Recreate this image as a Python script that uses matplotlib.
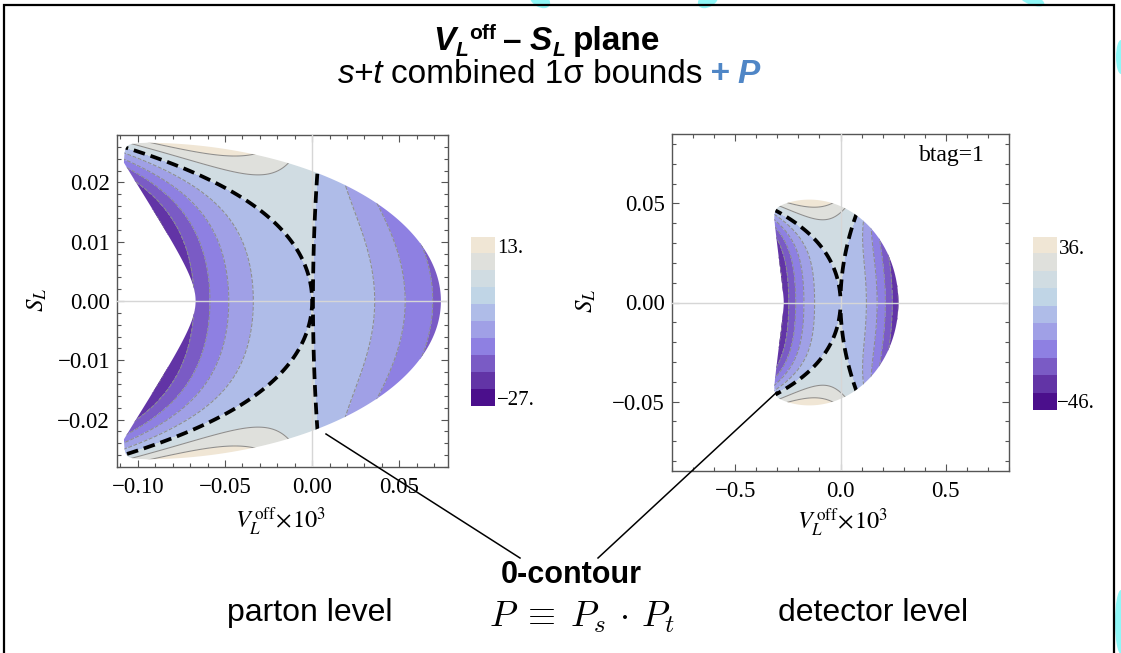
import numpy as np
import matplotlib
matplotlib.use("Agg")
import matplotlib.pyplot as plt
from matplotlib.patches import Rectangle, PathPatch, Ellipse
from matplotlib.colors import ListedColormap
from matplotlib.lines import Line2D
from matplotlib.ticker import MultipleLocator
from matplotlib.transforms import IdentityTransform

W, H = 1121, 653
SERIF = "Liberation Serif"
SANS = "Liberation Sans"

# ---------------------------------------------------------------- data
# legend colours, lowest value first
band_colors = ["#4B0F8C", "#6234A6", "#7A5BC5", "#8E80E2", "#A0A0E6",
               "#AFBCE8", "#C0D5E6", "#D0DCE2", "#DFE0DC", "#F0E6D5"]

# parton level: P = scale * Ps * Pt * damping(x > 0)
parton_range = [-27.0, 13.0]
parton_levels = [-27, -24, -20, -16, -12, -8, -4, 0, 4, 8, 13]
parton_fill = [0, 0, 1, 2, 3, 4, 5, 7, 8, 9]     # legend colour of each band
parton_range_labels = ["13.", "\u221227."]
parton_xlim = [-0.112, 0.078]
parton_ylim = [-0.028, 0.028]
parton_xticks = [-0.10, -0.05, 0.00, 0.05]
parton_xticklabels = ["\u22120.10", "\u22120.05", "0.00", "0.05"]
parton_yticks = [-0.02, -0.01, 0.00, 0.01, 0.02]
parton_yticklabels = ["\u22120.02", "\u22120.01", "0.00", "0.01", "0.02"]
parton_minor = [0.01, 0.002]
parton_Ps = [110.0, 74560.0]          # y^2, y^4 coefficients of the s factor
parton_Pt = [0.0005, 5.4]             # offset, y^2 coefficient of the t factor
parton_scale = 3460.0
parton_damp = 0.1134
parton_outer = [-0.100, 0.174, 0.0268]        # 1 sigma ellipse
parton_inner = [-0.067, 2.2, 0.005, -0.1085]  # vertex, slope, rounding, cap
parton_edge = [21.9, 0.10]                    # gradient match, corner rounding

# detector level, btag = 1
detector_range = [-46.0, 36.0]
detector_levels = [-46, -40, -32, -24, -16, -8, 0, 12, 24, 36]
detector_fill = [0, 1, 2, 3, 4, 5, 7, 8, 9]
detector_range_labels = ["36.", "\u221246."]
detector_xlim = [-0.80, 0.80]
detector_ylim = [-0.085, 0.085]
detector_xticks = [-0.5, 0.0, 0.5]
detector_xticklabels = ["\u22120.5", "0.0", "0.5"]
detector_yticks = [-0.05, 0.00, 0.05]
detector_yticklabels = ["\u22120.05", "0.00", "0.05"]
detector_minor = [0.1, 0.01]
detector_Ps = [100.0, 20000.0]
detector_Pt = [0.0, 38.0]
detector_scale = 530.0
detector_damp = 10.0
detector_outer = [-0.15, 0.425, 0.052]
detector_inner = [-0.27, 1.2, 0.003, -0.318]
detector_edge = [4.1, 0.10]


def px_axes(fig, x0, y0, x1, y1):
    return fig.add_axes([x0 / W, 1 - y1 / H, (x1 - x0) / W, (y1 - y0) / H])


def smooth_max(a, b, r):
    return 0.5 * (a + b + np.sqrt((a - b) ** 2 + r ** 2))


def product_field(X, Y, ps, pt, scale, damp):
    s_fac = X + ps[0] * Y ** 2 + ps[1] * Y ** 4
    t_fac = pt[0] + pt[1] * Y ** 2 - X
    weight = 1.0 / (1.0 + (np.maximum(X, 0) / damp) ** 2)
    return scale * s_fac * t_fac * weight


def region_field(X, Y, outer, inner, edge):
    xc, a, b = outer
    xi, s, e, cap = inner
    ell = ((X - xc) / a) ** 2 + (Y / b) ** 2 - 1
    x_in = np.maximum(xi - s * (np.sqrt(Y ** 2 + e ** 2) - e), cap)
    return smooth_max(ell, edge[0] * (x_in - X), edge[1])


def draw_panel(ax, xlim, ylim, rng, levels, fill, ps, pt, scale, damp, outer,
               inner, edge, xticks, xlabels, yticks, ylabels, minor):
    x = np.linspace(xlim[0], xlim[1], 900)
    y = np.linspace(ylim[0], ylim[1], 900)
    X, Y = np.meshgrid(x, y)
    P = product_field(X, Y, ps, pt, scale, damp)
    R = region_field(X, Y, outer, inner, edge)
    lo, hi = rng
    eps = 1e-6 * (hi - lo)
    Pc = np.clip(P, lo + eps, hi - eps)

    rc = ax.contour(X, Y, R, levels=[0])
    region = rc.get_paths()[0]
    rc.remove()
    clip = PathPatch(region, transform=ax.transData)

    cf = ax.contourf(X, Y, Pc, levels=levels,
                     colors=[band_colors[i] for i in fill], zorder=1)
    inner_levels = [v for v in levels[1:-1] if v != 0]
    cl = ax.contour(X, Y, Pc, levels=inner_levels, colors="#8d8d8d",
                    linewidths=0.75, zorder=2)
    cz = ax.contour(X, Y, P, levels=[0], colors="k", linewidths=2.7,
                    linestyles=[(0, (3.1, 1.6))], zorder=4)
    for c in (cf, cl, cz):
        c.set_clip_path(clip)

    ax.axhline(0, color="#d6d6d6", lw=1.0, zorder=3)
    ax.axvline(0, color="#d6d6d6", lw=1.0, zorder=3)
    ax.set_xlim(xlim)
    ax.set_ylim(ylim)
    ax.set_xticks(xticks, xlabels)
    ax.set_yticks(yticks, ylabels)
    ax.xaxis.set_minor_locator(MultipleLocator(minor[0]))
    ax.yaxis.set_minor_locator(MultipleLocator(minor[1]))
    ax.tick_params(which="both", direction="in", top=True, right=True,
                   color="#555555", width=0.8, labelsize=16.5)
    ax.tick_params(which="major", length=5)
    ax.tick_params(which="minor", length=2.6)
    ax.tick_params(axis="x", pad=7)
    ax.tick_params(axis="y", pad=5)
    for lab in ax.get_xticklabels() + ax.get_yticklabels():
        lab.set_fontfamily(SERIF)
    for sp in ax.spines.values():
        sp.set_color("#555555")
        sp.set_linewidth(1.0)


def colour_bar(fig, box, labels, lab_x, lab_y):
    cax = px_axes(fig, *box)
    cax.imshow(np.arange(len(band_colors))[::-1][:, None],
               cmap=ListedColormap(band_colors), aspect="auto",
               interpolation="nearest")
    cax.axis("off")
    for s, lx, ly in zip(labels, lab_x, lab_y):
        fig.text(lx / W, 1 - ly / H, s, fontfamily=SERIF, fontsize=15,
                 va="baseline", ha="left")


def rich_line(fig, renderer, pieces, cx, base):
    """pieces: (text, style, vertical shift px, gap after px)"""
    items = []
    for s, kw, dy, gap in pieces:
        t = fig.text(0, 0, s, transform=IdentityTransform(), ha="left",
                     va="baseline", **kw)
        items.append((t, dy, gap, t.get_window_extent(renderer).width))
    total = sum(w + g for _, _, g, w in items) - items[-1][2]
    x = cx - total / 2
    for t, dy, gap, w in items:
        t.set_position((x, H - base + dy))
        x += w + gap


fig = plt.figure(figsize=(W / 100, H / 100), dpi=100)
fig.patch.set_facecolor("white")
renderer = fig.canvas.get_renderer()

# slide decorations behind the frame
cyan = "#8ff7f7"
for (cx, cy, w, h, ang) in [(540, 0, 22, 14, -30), (708, 0, 22, 14, 30),
                            (1032, 0, 26, 10, -20), (1121, 57, 10, 34, 0),
                            (1121, 622, 12, 64, 0)]:
    fig.patches.append(Ellipse((cx, H - cy), w, h, angle=ang,
                               transform=IdentityTransform(),
                               facecolor=cyan, edgecolor="none", zorder=0))

# slide frame
fig.patches.append(Rectangle((3.5, -20), 1110.5, H + 20 - 5,
                             transform=IdentityTransform(), fill=False,
                             edgecolor="black", lw=1.6, zorder=5))

ax1 = px_axes(fig, 117, 135, 448, 467)
draw_panel(ax1, parton_xlim, parton_ylim, parton_range, parton_levels,
           parton_fill, parton_Ps, parton_Pt, parton_scale, parton_damp,
           parton_outer, parton_inner, parton_edge, parton_xticks,
           parton_xticklabels, parton_yticks, parton_yticklabels, parton_minor)

ax2 = px_axes(fig, 672, 134, 1009, 471)
draw_panel(ax2, detector_xlim, detector_ylim, detector_range, detector_levels,
           detector_fill, detector_Ps, detector_Pt, detector_scale,
           detector_damp, detector_outer, detector_inner, detector_edge,
           detector_xticks, detector_xticklabels, detector_yticks,
           detector_yticklabels, detector_minor)
ax2.text(0.929, 0.935, "btag=1", transform=ax2.transAxes,
         ha="right", va="center", fontfamily=SERIF, fontsize=17)

colour_bar(fig, (471, 237, 495, 406), parton_range_labels, [497, 497], [253, 405])
colour_bar(fig, (1033, 237, 1057, 410), detector_range_labels, [1059, 1057], [254, 408])

# axis labels
for x, y in [(37, 300), (586, 301)]:
    fig.text(x / W, 1 - y / H, r"$S_L$", math_fontfamily="stix", fontsize=18,
             rotation=90, ha="center", va="center")
for x, y in [(280, 522), (842, 523)]:
    fig.text(x / W, 1 - y / H, r"$V_L^{\,\mathrm{off}}\!\times\!10^3$",
             math_fontfamily="stix", fontsize=17.5, ha="center", va="center")

# title
TS = 24
bi = dict(fontfamily=SANS, fontweight="bold", fontstyle="italic", fontsize=TS)
bi_s = dict(fontfamily=SANS, fontweight="bold", fontstyle="italic", fontsize=15)
b = dict(fontfamily=SANS, fontweight="bold", fontsize=TS)
b_s = dict(fontfamily=SANS, fontweight="bold", fontsize=15)
rich_line(fig, renderer, [("V", bi, 0, 0), ("L", bi_s, -6, 0),
                          ("off", b_s, 11, 8), ("\u2013", b, 0, 8),
                          ("S", bi, 0, 0), ("L", bi_s, -6, 8),
                          ("plane", b, 0, 0)], 547, 50)
it = dict(fontfamily=SANS, fontstyle="italic", fontsize=TS)
rg = dict(fontfamily=SANS, fontsize=TS)
blue = dict(fontfamily=SANS, fontweight="bold", fontstyle="italic",
            fontsize=TS, color="#4F86C6")
rich_line(fig, renderer, [("s+t", it, 0, 7), ("combined 1\u03c3 bounds", rg, 0, 8),
                          ("+", blue, 0, 8), ("P", blue, 0, 0)], 549, 83)

# annotation
for (x0, y0, x1, y1) in [(326, 434, 520, 558), (777, 392, 598, 558)]:
    fig.lines.append(Line2D([x0, x1], [H - y0, H - y1], color="black", lw=1.1,
                            transform=IdentityTransform()))
fig.text(571 / W, 1 - 583 / H, "0-contour", fontfamily=SANS, fontweight="bold",
         fontsize=22, ha="center", va="baseline")
fig.text(310 / W, 1 - 621 / H, "parton level", fontfamily=SANS, fontsize=23,
         ha="center", va="baseline")
fig.text(873 / W, 1 - 621 / H, "detector level", fontfamily=SANS, fontsize=23,
         ha="center", va="baseline")
fig.text(582 / W, 1 - 627 / H, r"$P\;\equiv\;P_s\,\cdot\,P_t$",
         math_fontfamily="cm", fontsize=26, ha="center", va="baseline")

fig.savefig("out.png", dpi=100)
